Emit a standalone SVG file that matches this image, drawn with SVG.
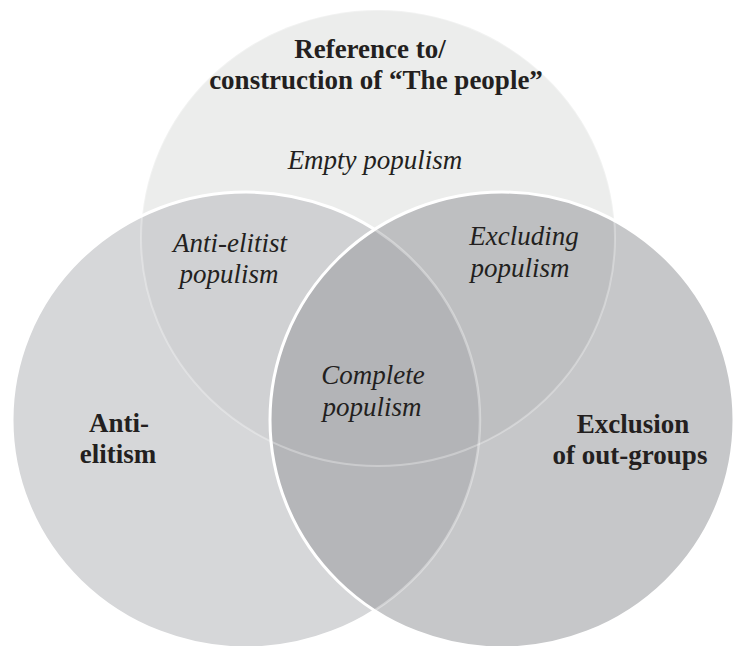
<svg xmlns="http://www.w3.org/2000/svg" width="734" height="646" viewBox="0 0 734 646">
<style>
  .lbl { font-family: "Liberation Serif", "Times New Roman", serif; font-size: 27px; fill: #231f20; text-anchor: middle; }
  .b { font-weight: bold; }
  .i { font-style: italic; }
</style>
<defs>
  <ellipse id="eT" cx="378" cy="238" rx="237" ry="228"/>
  <ellipse id="eL" cx="246" cy="420" rx="234" ry="228"/>
  <ellipse id="eR" cx="502" cy="420" rx="232" ry="228"/>
  <clipPath id="cL"><use href="#eL"/></clipPath>
  <clipPath id="cR"><use href="#eR"/></clipPath>
</defs>
<rect width="734" height="646" fill="#ffffff"/>

<g id="people">
  <use href="#eT" fill="#ecedec"/>
</g>
<g id="anti-elitism">
  <use href="#eL" fill="#d6d7d9"/>
  <use href="#eT" fill="#d0d1d3" clip-path="url(#cL)"/>
  <use href="#eL" fill="none" stroke="#ffffff" stroke-width="3"/>
</g>
<g id="exclusion">
  <use href="#eR" fill="#c6c7c9"/>
  <g clip-path="url(#cR)">
    <use href="#eT" fill="#bebfc1"/>
    <use href="#eL" fill="#b5b6b9"/>
    <use href="#eT" fill="#b3b4b7" clip-path="url(#cL)"/>
    <use href="#eL" fill="none" stroke="#ffffff" stroke-opacity="0.35" stroke-width="2.5"/>
  </g>
  <use href="#eT" fill="none" stroke="#ffffff" stroke-opacity="0.3" stroke-width="2"/>
  <use href="#eR" fill="none" stroke="#ffffff" stroke-width="3"/>
</g>

<g id="label-people">
  <text class="lbl b" x="370" y="58">Reference to/</text>
  <text class="lbl b" x="376" y="89">construction of “The people”</text>
</g>
<g id="empty-populism">
  <text class="lbl i" x="375" y="169">Empty populism</text>
</g>
<g id="anti-elitist-populism">
  <text class="lbl i" x="230" y="252">Anti-elitist</text>
  <text class="lbl i" x="229" y="283">populism</text>
</g>
<g id="excluding-populism">
  <text class="lbl i" x="524" y="245">Excluding</text>
  <text class="lbl i" x="520" y="277">populism</text>
</g>
<g id="complete-populism">
  <text class="lbl i" x="373" y="384">Complete</text>
  <text class="lbl i" x="372" y="416">populism</text>
</g>
<g id="label-anti-elitism">
  <text class="lbl b" x="119" y="432">Anti-</text>
  <text class="lbl b" x="118" y="463">elitism</text>
</g>
<g id="label-exclusion">
  <text class="lbl b" x="633" y="433">Exclusion</text>
  <text class="lbl b" x="630" y="464">of out-groups</text>
</g>
</svg>
